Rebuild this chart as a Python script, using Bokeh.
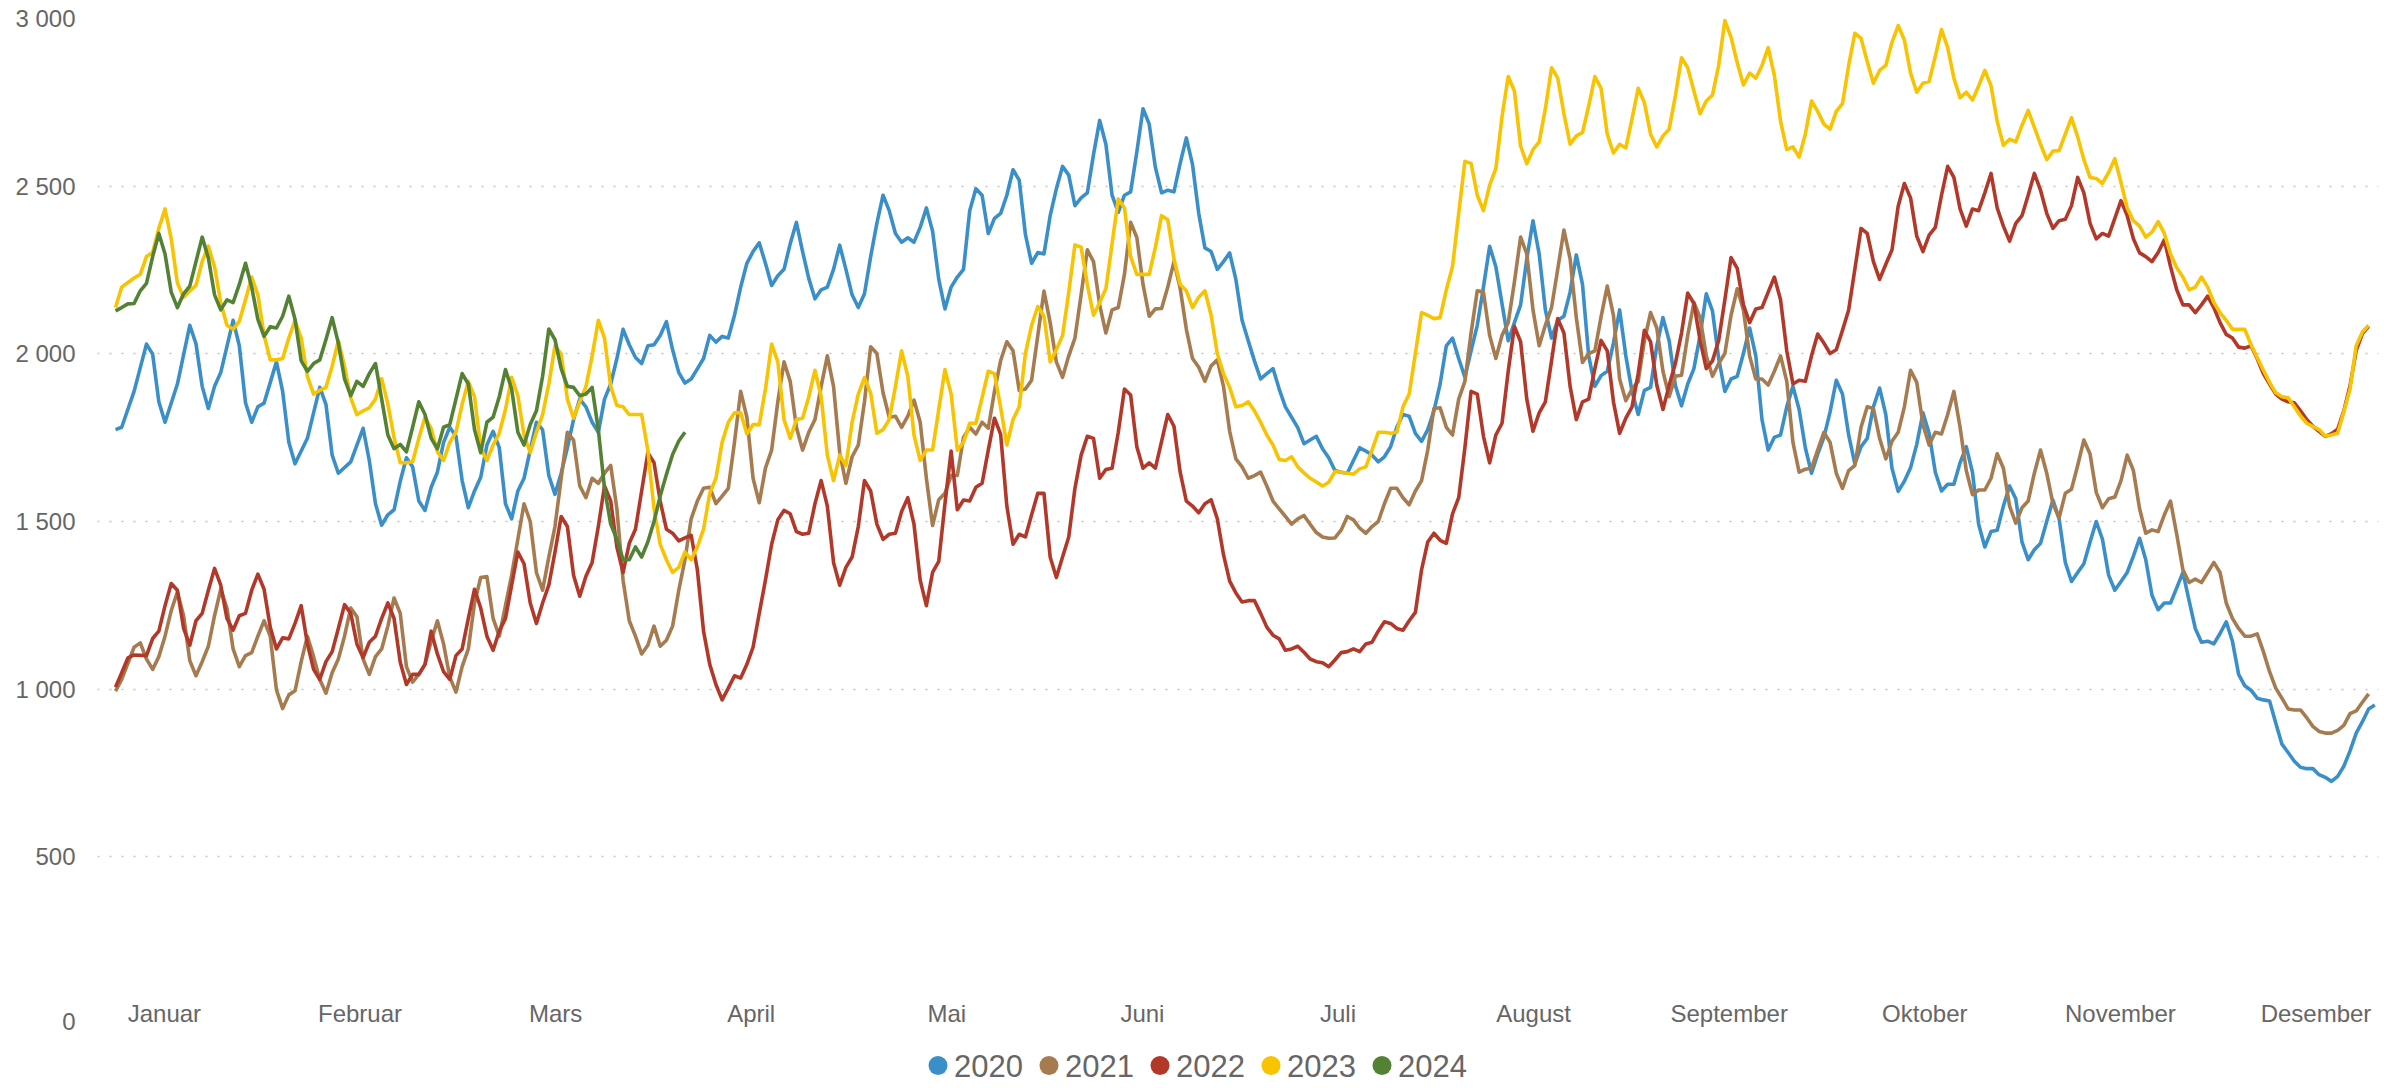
from bokeh.plotting import figure
from bokeh.layouts import column
from bokeh.models import Range1d, FixedTicker
from bokeh.core.properties import value
from bokeh.embed import file_html
from bokeh.resources import INLINE

YEARS = ["2020", "2021", "2022", "2023", "2024"]
COLORS = ["#3A8FC9", "#A67B50", "#B2392A", "#F8C300", "#548235"]
MONTHS = ["Januar", "Februar", "Mars", "April", "Mai", "Juni", "Juli",
          "August", "September", "Oktober", "November", "Desember"]
Y_TICKS = [0, 500, 1000, 1500, 2000, 2500, 3000]
Y_LABELS = ["0", "500", "1 000", "1 500", "2 000", "2 500", "3 000"]
GRID_TICKS = [500, 1000, 1500, 2000, 2500, 3000]

# (day of year, value)
DATA_2020 = [(0,1774),(1,1781),(3,1888),(5,2029),(6,1999),(7,1857),(8,1796),(10,1910),(12,2085),(13,2030),(14,1903),(15,1837),(16,1903),(17,1944),(19,2100),(20,2024),(21,1854),(22,1796),(23,1842),(24,1853),(26,1976),(27,1888),(28,1736),(29,1672),(31,1748),(33,1900),(34,1849),(35,1698),(36,1644),(38,1678),(40,1778),(41,1682),(42,1553),(43,1489),(44,1520),(45,1535),(46,1620),
(47,1690),(48,1663),(49,1561),(50,1533),(51,1602),(52,1647),(53,1736),(54,1781),(55,1755),(56,1622),(57,1541),(58,1591),(59,1632),(60,1728),(61,1769),(62,1720),(63,1553),(64,1508),(65,1591),(66,1629),(67,1713),(68,1796),(69,1773),(70,1637),(71,1581),(72,1644),(73,1720),(74,1804),(75,1865),(76,1842),(77,1796),(78,1766),(79,1865),(80,1910),(81,1986),(82,2073),(83,2027),(84,1989),(85,1971),(86,2024),(87,2027),(88,2055),(89,2096),(90,2012),(91,1944),(92,1913),(93,1925),
(94,1955),(95,1986),(96,2055),(97,2035),(98,2052),(99,2047),(100,2115),(101,2199),(102,2270),(103,2305),(104,2331),(105,2270),(106,2204),(107,2233),(108,2252),(109,2328),(110,2392),(111,2305),(112,2225),(113,2164),(114,2191),(115,2199),(116,2252),(117,2324),(118,2252),(119,2176),(120,2138),(121,2179),(122,2290),(123,2389),(124,2473),(125,2427),(126,2359),(127,2333),(128,2346),(129,2333),(130,2377),(131,2435),(132,2366),(133,2222),(134,2134),(135,2199),(136,2229),(137,2252),(138,2427),(139,2492),(140,2473),(141,2359),(142,2404),
(143,2419),(144,2473),(145,2549),(146,2518),(147,2356),(148,2270),(149,2302),(150,2298),(151,2412),(152,2492),(153,2559),(154,2533),(155,2442),(156,2465),(157,2480),(158,2594),(159,2696),(160,2625),(161,2473),(162,2422),(163,2473),(164,2483),(165,2602),(166,2731),(167,2685),(168,2556),(169,2480),(170,2488),(171,2483),(172,2568),(173,2644),(174,2564),(175,2419),(176,2316),(177,2305),(178,2252),(179,2275),(180,2301),(181,2222),(182,2100),(183,2039),(184,1979),(185,1925),(186,1941),(187,1956),(188,1895),(189,1842),(190,1811),(191,1780),
(192,1732),(193,1743),(194,1754),(195,1717),(196,1690),(197,1652),(198,1647),(199,1644),(200,1682),(201,1720),(202,1710),(203,1698),(204,1678),(205,1693),(206,1723),(207,1781),(208,1819),(209,1814),(210,1763),(211,1739),(212,1774),(213,1830),(214,1910),(215,2024),(216,2047),(217,1986),(218,1930),(219,2009),(220,2085),(221,2199),(222,2321),(223,2260),(224,2149),(225,2039),(226,2093),(227,2146),(228,2283),(229,2397),(230,2298),(231,2131),(232,2047),(233,2100),(234,2112),(235,2184),(236,2295),(237,2207),(238,1994),(239,1903),
(240,1935),(241,1948),(242,2032),(243,2131),(244,1994),(245,1888),(246,1819),(247,1891),(248,1900),(249,2024),(250,2108),(251,2039),(252,1906),(253,1845),(254,1910),(255,1956),(256,2055),(257,2179),(258,2128),(259,1986),(260,1888),(261,1925),(262,1933),(263,2001),(264,2077),(265,1994),(266,1804),(267,1713),(268,1751),(269,1758),(270,1842),(271,1903),(272,1834),(273,1720),(274,1644),(275,1701),(276,1751),(277,1827),(278,1921),(279,1880),(280,1758),(281,1672),(282,1723),(283,1748),(284,1842),(285,1898),(286,1819),(287,1659),(288,1590),
(289,1620),(290,1660),(291,1730),(292,1824),(293,1763),(294,1647),(295,1591),(296,1611),(297,1611),(298,1675),(299,1723),(300,1647),(301,1492),(302,1424),(303,1470),(304,1474),(305,1546),(306,1606),(307,1568),(308,1439),(309,1386),(310,1416),(311,1435),(312,1500),(313,1564),(314,1508),(315,1378),(316,1321),(317,1348),(318,1374),(319,1439),(320,1500),(321,1447),(322,1340),(323,1295),(324,1321),(325,1348),(326,1397),(327,1450),(328,1386),
(329,1280),(330,1237),(331,1257),(332,1257),(333,1302),(334,1348),(335,1264),(336,1181),(337,1140),(338,1143),(339,1135),(340,1166),(341,1201),(342,1143),(343,1044),(344,1010),(345,997),(346,973),(347,968),(348,965),(349,899),(350,836),(351,811),(352,785),(353,767),(354,763),(355,763),(356,745),(357,737),(358,725),(359,740),(360,770),(361,816),(362,869),(363,903),(364,941),(365,953)]

DATA_2021 = [(0,994),(1,1029),(3,1125),(4,1138),(5,1090),(6,1059),(7,1097),(8,1158),(9,1234),(10,1290),(11,1219),(12,1085),(13,1040),(14,1082),(15,1128),(16,1219),(17,1298),(18,1242),(19,1120),(20,1067),(21,1100),(22,1109),(23,1158),(24,1204),(25,1158),(26,998),(27,942),(28,983),(29,995),(30,1082),(31,1158),(32,1097),(33,1029),(34,988),(35,1049),(36,1090),(37,1158),(38,1242),(39,1216),(40,1090),(41,1044),(42,1097),(43,1120),(44,1188),(45,1272),(46,1226),
(47,1067),(48,1021),(49,1044),(50,1074),(51,1143),(52,1204),(53,1135),(54,1036),(55,991),(56,1067),(57,1120),(58,1257),(59,1333),(60,1336),(61,1211),(62,1158),(63,1249),(64,1340),(65,1447),(66,1553),(67,1500),(68,1348),(69,1295),(70,1394),(71,1485),(72,1629),(73,1766),(74,1743),(75,1606),(76,1571),(77,1629),(78,1614),(79,1644),(80,1667),(81,1538),(82,1325),(83,1204),(84,1158),(85,1105),(86,1131),(87,1188),(88,1128),(89,1146),(90,1188),(91,1295),(92,1386),(93,1508),(94,1561),
(95,1599),(96,1602),(97,1553),(98,1576),(99,1599),(100,1736),(101,1888),(102,1811),(103,1629),(104,1556),(105,1659),(106,1713),(107,1857),(108,1976),(109,1918),(110,1781),(111,1713),(112,1766),(113,1804),(114,1903),(115,1994),(116,1903),(117,1705),(118,1614),(119,1693),(120,1728),(121,1857),(122,2021),(123,2001),(124,1884),(125,1811),(126,1814),(127,1781),(128,1814),(129,1862),(130,1796),(131,1629),(132,1488),(133,1565),(134,1584),(135,1637),(136,1637),(137,1751),(138,1781),(139,1761),(140,1796),(141,1778),(142,1888),
(143,1980),(144,2036),(145,2009),(146,1891),(147,1895),(148,1921),(149,2055),(150,2187),(151,2093),(152,1976),(153,1930),(154,1994),(155,2047),(156,2176),(157,2310),(158,2275),(159,2146),(160,2062),(161,2131),(162,2138),(163,2237),(164,2392),(165,2347),(166,2207),(167,2112),(168,2134),(169,2135),(170,2199),(171,2275),(172,2196),(173,2073),(174,1986),(175,1960),(176,1918),(177,1964),(178,1982),(179,1903),(180,1769),(181,1687),(182,1663),(183,1629),(184,1637),(185,1647),(186,1606),(187,1561),(188,1538),(189,1515),(190,1492),(191,1508),
(192,1518),(193,1492),(194,1467),(195,1454),(196,1450),(197,1451),(198,1474),(199,1515),(200,1505),(201,1480),(202,1465),(203,1485),(204,1500),(205,1553),(206,1599),(207,1599),(208,1571),(209,1550),(210,1591),(211,1622),(212,1713),(213,1837),(214,1839),(215,1781),(216,1758),(217,1865),(218,1918),(219,2062),(220,2188),(221,2184),(222,2055),(223,1986),(224,2055),(225,2093),(226,2214),(227,2348),(228,2298),(229,2131),(230,2024),(231,2085),(232,2138),(233,2252),(234,2369),(235,2283),(236,2108),(237,1974),(238,2001),(239,2009),
(240,2110),(241,2202),(242,2115),(243,1925),(244,1860),(245,1895),(246,1918),(247,2039),(248,2123),(249,2077),(250,1948),(251,1872),(252,1933),(253,1936),(254,2055),(255,2153),(256,2108),(257,1994),(258,1933),(259,1971),(260,2001),(261,2115),(262,2194),(263,2131),(264,1994),(265,1925),(266,1925),(267,1907),(268,1948),(269,1994),(270,1918),(271,1736),(272,1647),(273,1656),(274,1659),(275,1713),(276,1766),(277,1736),(278,1644),(279,1599),(280,1652),(281,1667),(282,1781),(283,1842),(284,1837),(285,1748),(286,1687),(287,1739),(288,1766),
(289,1842),(290,1951),(291,1915),(292,1789),(293,1728),(294,1766),(295,1761),(296,1819),(297,1888),(298,1781),(299,1652),(300,1580),(301,1594),(302,1594),(303,1629),(304,1702),(305,1659),(306,1546),(307,1495),(308,1541),(309,1561),(310,1644),(311,1713),(312,1644),(313,1553),(314,1511),(315,1584),(316,1596),(317,1667),(318,1743),(319,1701),(320,1587),(321,1541),(322,1568),(323,1573),(324,1622),(325,1698),(326,1652),(327,1538),(328,1465),
(329,1475),(330,1470),(331,1520),(332,1561),(333,1462),(334,1356),(335,1318),(336,1328),(337,1318),(338,1348),(339,1378),(340,1348),(341,1257),(342,1211),(343,1181),(344,1158),(345,1158),(346,1165),(347,1112),(348,1052),(349,1003),(350,973),(351,941),(352,938),(353,938),(354,915),(355,889),(356,874),(357,869),(358,869),(359,877),(360,892),(361,927),(362,935),(363,961),(364,986)]

DATA_2022 = [(0,1006),(1,1049),(2,1093),(3,1102),(5,1100),(6,1151),(7,1173),(8,1249),(9,1315),(10,1295),(11,1181),(12,1131),(13,1204),(14,1226),(15,1295),(16,1360),(17,1310),(18,1211),(19,1176),(20,1219),(21,1226),(22,1295),(23,1343),(24,1298),(25,1185),(26,1120),(27,1153),(28,1150),(29,1196),(30,1249),(31,1135),(32,1059),(33,1029),(34,1082),(35,1112),(36,1181),(37,1252),(38,1226),(39,1135),(40,1094),(41,1140),(42,1158),(43,1211),(44,1257),(45,1211),(46,1080),
(47,1014),(48,1044),(49,1044),(50,1074),(51,1173),(52,1105),(53,1052),(54,1029),(55,1100),(56,1120),(57,1211),(58,1298),(59,1242),(60,1158),(61,1116),(62,1173),(63,1211),(64,1310),(65,1409),(66,1374),(67,1257),(68,1196),(69,1257),(70,1310),(71,1409),(72,1515),(73,1485),(74,1340),(75,1277),(76,1337),(77,1378),(78,1485),(79,1606),(80,1561),(81,1424),(82,1348),(83,1435),(84,1477),(85,1591),(86,1705),(87,1675),(88,1561),(89,1477),(90,1465),(91,1442),(92,1451),(93,1459),(94,1356),
(95,1173),(96,1074),(97,1014),(98,968),(99,1003),(100,1040),(101,1033),(102,1074),(103,1125),(104,1226),(105,1325),(106,1432),(107,1505),(108,1533),(109,1523),(110,1470),(111,1462),(112,1465),(113,1553),(114,1622),(115,1546),(116,1378),(117,1310),(118,1363),(119,1394),(120,1485),(121,1622),(122,1591),(123,1492),(124,1447),(125,1462),(126,1465),(127,1530),(128,1571),(129,1492),(130,1325),(131,1249),(132,1348),(133,1381),(134,1553),(135,1710),(136,1535),(137,1564),(138,1561),(139,1602),(140,1614),(141,1713),(142,1808),
(143,1760),(144,1546),(145,1432),(146,1462),(147,1454),(148,1520),(149,1584),(150,1584),(151,1394),(152,1333),(153,1394),(154,1454),(155,1599),(156,1698),(157,1754),(158,1748),(159,1629),(160,1655),(161,1659),(162,1766),(163,1895),(164,1877),(165,1723),(166,1659),(167,1675),(168,1659),(169,1739),(170,1819),(171,1784),(172,1647),(173,1561),(174,1546),(175,1526),(176,1553),(177,1565),(178,1508),(179,1401),(180,1322),(181,1287),(182,1260),(183,1264),(184,1264),(185,1226),(186,1185),(187,1161),(188,1150),(189,1116),(190,1120),(191,1128),
(192,1110),(193,1090),(194,1082),(195,1079),(196,1067),(197,1087),(198,1109),(199,1112),(200,1120),(201,1112),(202,1135),(203,1140),(204,1173),(205,1201),(206,1196),(207,1181),(208,1176),(209,1204),(210,1229),(211,1356),(212,1439),(213,1465),(214,1444),(215,1435),(216,1523),(217,1571),(218,1720),(219,1888),(220,1880),(221,1754),(222,1675),(223,1758),(224,1793),(225,1948),(226,2082),(227,2036),(228,1865),(229,1769),(230,1824),(231,1857),(232,1979),(233,2105),(234,2062),(235,1903),(236,1804),(237,1857),(238,1865),(239,1956),
(240,2040),(241,2009),(242,1857),(243,1763),(244,1808),(245,1842),(246,1941),(247,2070),(248,2036),(249,1907),(250,1834),(251,1906),(252,1971),(253,2062),(254,2181),(255,2150),(256,2040),(257,1956),(258,1979),(259,2040),(260,2161),(261,2287),(262,2255),(263,2146),(264,2093),(265,2134),(266,2138),(267,2184),(268,2229),(269,2161),(270,2009),(271,1910),(272,1921),(273,1918),(274,1994),(275,2059),(276,2032),(277,2001),(278,2012),(279,2070),(280,2131),(281,2252),(282,2374),(283,2359),(284,2275),(285,2222),(286,2267),(287,2310),(288,2440),
(289,2508),(290,2465),(291,2351),(292,2305),(293,2354),(294,2377),(295,2473),(296,2559),(297,2526),(298,2432),(299,2381),(300,2432),(301,2427),(302,2480),(303,2538),(304,2435),(305,2381),(306,2336),(307,2389),(308,2412),(309,2473),(310,2538),(311,2488),(312,2419),(313,2374),(314,2397),(315,2401),(316,2442),(317,2526),(318,2480),(319,2389),(320,2343),(321,2359),(322,2351),(323,2404),(324,2457),(325,2412),(326,2343),(327,2301),(328,2290),
(329,2275),(330,2302),(331,2340),(332,2260),(333,2191),(334,2146),(335,2146),(336,2123),(337,2146),(338,2172),(339,2138),(340,2093),(341,2058),(342,2047),(343,2020),(344,2017),(345,2024),(346,1986),(347,1941),(348,1910),(349,1880),(350,1865),(351,1857),(352,1854),(353,1830),(354,1804),(355,1784),(356,1769),(357,1754),(358,1762),(359,1775),(360,1830),(361,1905),(362,2010),(363,2060),(364,2082)]

DATA_2023 = [(0,2138),(1,2199),(3,2226),(4,2237),(5,2290),(6,2302),(7,2374),(8,2432),(9,2343),(10,2211),(11,2169),(12,2188),(13,2204),(14,2275),(15,2321),(16,2260),(17,2153),(18,2085),(19,2073),(20,2097),(21,2161),(22,2229),(23,2176),(24,2055),(25,1982),(26,1982),(27,1986),(28,2047),(29,2100),(30,2047),(31,1933),(32,1880),(33,1891),(34,1900),(35,1963),(36,2039),(37,1963),(38,1869),(39,1819),(40,1830),(41,1839),(42,1865),(43,1926),(44,1850),(45,1751),(46,1675),
(47,1675),(48,1678),(49,1748),(50,1811),(51,1777),(52,1708),(53,1682),(54,1736),(55,1766),(56,1850),(57,1918),(58,1872),(59,1720),(60,1682),(61,1728),(62,1763),(63,1834),(64,1930),(65,1875),(66,1758),(67,1705),(68,1766),(69,1819),(70,1910),(71,2024),(72,1999),(73,1865),(74,1808),(75,1857),(76,1903),(77,1993),(78,2100),(79,2047),(80,1903),(81,1846),(82,1842),(83,1819),(84,1819),(85,1819),(86,1713),(87,1538),(88,1432),(89,1386),(90,1348),(91,1363),(92,1409),(93,1386),(94,1424),
(95,1477),(96,1584),(97,1629),(98,1736),(99,1796),(100,1824),(101,1824),(102,1761),(103,1789),(104,1789),(105,1895),(106,2029),(107,1976),(108,1804),(109,1748),(110,1804),(111,1808),(112,1872),(113,1951),(114,1872),(115,1698),(116,1622),(117,1698),(118,1667),(119,1796),(120,1880),(121,1929),(122,1883),(123,1763),(124,1774),(125,1804),(126,1903),(127,2009),(128,1933),(129,1758),(130,1682),(131,1713),(132,1713),(133,1834),(134,1953),(135,1880),(136,1713),(137,1736),(138,1793),(139,1793),(140,1869),(141,1948),(142,1941),
(143,1840),(144,1728),(145,1804),(146,1842),(147,2001),(148,2085),(149,2141),(150,2112),(151,1976),(152,2012),(153,2055),(154,2184),(155,2325),(156,2318),(157,2207),(158,2115),(159,2153),(160,2194),(161,2328),(162,2462),(163,2435),(164,2290),(165,2237),(166,2237),(167,2237),(168,2318),(169,2412),(170,2400),(171,2283),(172,2207),(173,2188),(174,2138),(175,2169),(176,2188),(177,2115),(178,2001),(179,1941),(180,1900),(181,1842),(182,1846),(183,1857),(184,1830),(185,1796),(186,1758),(187,1728),(188,1685),(189,1682),(190,1693),(191,1663),
(192,1645),(193,1629),(194,1618),(195,1606),(196,1617),(197,1649),(198,1647),(199,1644),(200,1641),(201,1657),(202,1663),(203,1713),(204,1766),(205,1766),(206,1763),(207,1766),(208,1842),(209,1880),(210,2001),(211,2123),(212,2115),(213,2105),(214,2108),(215,2191),(216,2260),(217,2419),(218,2574),(219,2568),(220,2473),(221,2427),(222,2503),(223,2552),(224,2708),(225,2827),(226,2784),(227,2620),(228,2567),(229,2609),(230,2632),(231,2731),(232,2853),(233,2822),(234,2716),(235,2625),(236,2650),(237,2660),(238,2739),(239,2827),
(240,2792),(241,2655),(242,2599),(243,2625),(244,2614),(245,2701),(246,2792),(247,2749),(248,2655),(249,2617),(250,2650),(251,2670),(252,2769),(253,2883),(254,2853),(255,2784),(256,2716),(257,2754),(258,2772),(259,2860),(260,2994),(261,2944),(262,2868),(263,2802),(264,2837),(265,2822),(266,2860),(267,2913),(268,2830),(269,2693),(270,2609),(271,2617),(272,2587),(273,2655),(274,2754),(275,2723),(276,2685),(277,2670),(278,2723),(279,2746),(280,2860),(281,2956),(282,2941),(283,2872),(284,2807),(285,2845),(286,2860),(287,2929),(288,2979),
(289,2936),(290,2837),(291,2780),(292,2807),(293,2812),(294,2888),(295,2967),(296,2913),(297,2822),(298,2764),(299,2780),(300,2757),(301,2799),(302,2845),(303,2799),(304,2693),(305,2622),(306,2640),(307,2632),(308,2681),(309,2726),(310,2675),(311,2625),(312,2579),(313,2605),(314,2606),(315,2655),(316,2704),(317,2647),(318,2579),(319,2526),(320,2523),(321,2508),(322,2541),(323,2582),(324,2511),(325,2435),(326,2397),(327,2381),(328,2348),
(329,2363),(330,2394),(331,2359),(332,2298),(333,2257),(334,2229),(335,2191),(336,2199),(337,2229),(338,2199),(339,2153),(340,2123),(341,2100),(342,2073),(343,2073),(344,2073),(345,2027),(347,1951),(348,1915),(349,1884),(350,1872),(351,1869),(352,1842),(353,1815),(354,1793),(356,1774),(357,1755),(358,1758),(359,1763),(360,1827),(361,1895),(362,2024),(363,2065),(364,2085)]

DATA_2024 = [(0,2128),(1,2138),(2,2149),(3,2150),(4,2188),(5,2210),(6,2290),(7,2359),(8,2298),(9,2184),(10,2138),(11,2179),(12,2202),(13,2275),(14,2348),(15,2286),(16,2176),(17,2131),(18,2161),(19,2153),(20,2207),(21,2270),(22,2199),(23,2103),(24,2052),(25,2081),(26,2077),(27,2112),(28,2172),(29,2103),(30,1979),(31,1948),(32,1971),(33,1982),(34,2043),(35,2108),(36,2032),(37,1925),(38,1875),(39,1918),(40,1903),(41,1941),(42,1971),(43,1865),(44,1758),(45,1717),(46,1730),
(47,1708),(48,1781),(49,1857),(50,1819),(51,1748),(52,1717),(53,1781),(54,1789),(55,1865),(56,1941),(57,1910),(58,1774),(59,1705),(60,1796),(61,1811),(62,1872),(63,1953),(64,1895),(65,1766),(66,1728),(67,1789),(68,1830),(69,1933),(70,2074),(71,2042),(72,1956),(73,1903),(74,1900),(75,1875),(76,1880),(77,1900),(78,1774),(79,1599),(80,1492),(81,1447),(82,1386),(83,1386),(84,1424),(85,1394),(86,1439),(87,1500),(88,1576),(89,1640),(90,1700),(91,1740),(92,1766)]

SERIES = [DATA_2020, DATA_2021, DATA_2022, DATA_2023, DATA_2024]

TEXT_COLOR = "#666666"
FONT = "Liberation Sans"

# month labels evenly spaced along the day axis
MONTH_TICKS = [round(7.9 + 31.6 * i, 1) for i in range(len(MONTHS))]

FRAME_W = 2281
p = figure(frame_width=FRAME_W, frame_height=1006, output_backend="svg", toolbar_location=None,
           x_range=Range1d(-2.91, 365.6), y_range=Range1d(0, 3000),
           min_border_left=97, min_border_right=19, min_border_top=18, min_border_bottom=10)
p.outline_line_color = None
p.background_fill_color = "white"
p.border_fill_color = "white"

p.xgrid.visible = False
p.ygrid.ticker = FixedTicker(ticks=GRID_TICKS)
p.ygrid.grid_line_color = "#C4C4C4"
p.ygrid.grid_line_dash = "2 10"
p.ygrid.grid_line_width = 1.5

p.yaxis.ticker = FixedTicker(ticks=Y_TICKS)
p.yaxis.major_label_overrides = {t: lab for t, lab in zip(Y_TICKS, Y_LABELS)}
p.xaxis.ticker = FixedTicker(ticks=MONTH_TICKS)
p.xaxis.major_label_overrides = {t: m for t, m in zip(MONTH_TICKS, MONTHS)}

for ax in (p.xaxis[0], p.yaxis[0]):
    ax.axis_line_color = None
    ax.major_tick_line_color = None
    ax.minor_tick_line_color = None
    ax.major_tick_out = 0
    ax.major_tick_in = 0
    ax.major_label_text_font = FONT
    ax.major_label_text_font_size = "24px"
    ax.major_label_text_color = TEXT_COLOR
p.xaxis.major_label_standoff = -25
p.yaxis.major_label_standoff = 22

for data, color in zip(SERIES, COLORS):
    days = [d for d, _ in data]
    vals = [v for _, v in data]
    p.line(days, vals, line_color=color, line_width=3.6, line_join="round")

# legend strip below the chart (pixel coordinates, frame aligned with the chart frame)
LG_H = 50
lg = figure(frame_width=FRAME_W, frame_height=LG_H, output_backend="svg", toolbar_location=None,
            x_range=Range1d(0, FRAME_W), y_range=Range1d(0, LG_H),
            x_axis_location=None, y_axis_location=None,
            min_border_left=97, min_border_right=19, min_border_top=0, min_border_bottom=0)
lg.outline_line_color = None
lg.grid.visible = False
lg.background_fill_color = "white"
lg.border_fill_color = "white"

item_x0, item_step, row_y = 840.5, 111.0, 19
dot_x = [item_x0 + i * item_step for i in range(len(YEARS))]
txt_x = [x + 16 for x in dot_x]
lg.scatter(x=dot_x, y=[row_y] * len(YEARS), marker="circle", size=19,
           fill_color=COLORS, line_color=None)
lg.text(x=txt_x, y=[row_y] * len(YEARS), text=YEARS, text_font=value(FONT),
        text_font_size="31px", text_color=TEXT_COLOR,
        text_align="left", text_baseline="middle")

layout = column(p, lg, spacing=0)
open("out.html", "w").write(file_html(layout, INLINE))
